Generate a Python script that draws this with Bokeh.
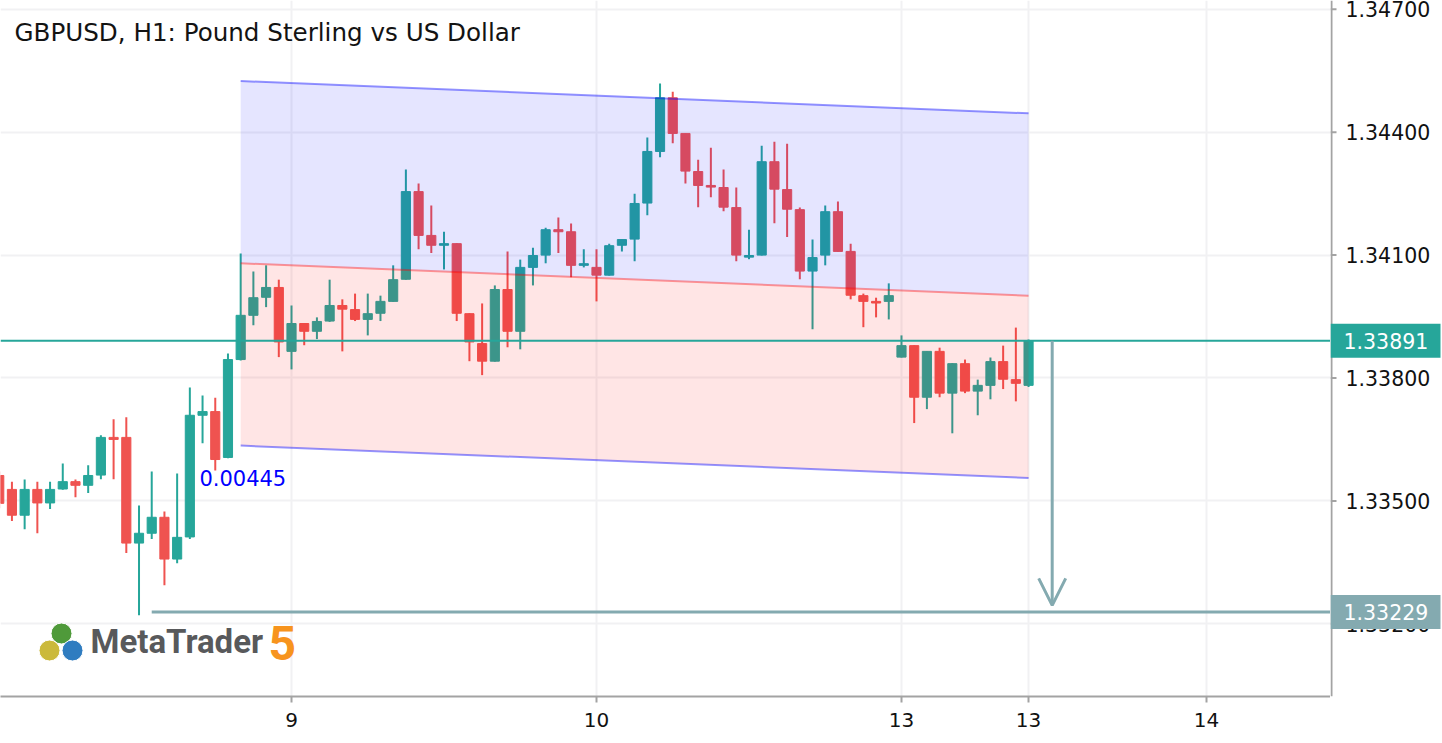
from bokeh.plotting import figure
from bokeh.layouts import row
from bokeh.models import Range1d, FixedTicker, Label, Arrow, OpenHead, Span, Grid
from bokeh.embed import file_html
from bokeh.resources import INLINE
from bokeh.core.properties import value

# ---------------- data ----------------
hours = list(range(-23, 59))  # H1 bar index, 0 = 9th 00:00
opens = [1.33562, 1.33528, 1.33465, 1.33528, 1.33495, 1.33529, 1.33547, 1.33538, 1.33563, 1.33655,
         1.33655, 1.33397, 1.33421, 1.33460, 1.33358, 1.33412, 1.33709, 1.33718, 1.33606, 1.33845,
         1.33953, 1.33997, 1.34021, 1.33865, 1.33933, 1.33914, 1.33939, 1.33977, 1.33967, 1.33943,
         1.33958, 1.33987, 1.34041, 1.34255, 1.34148, 1.34124, 1.34128, 1.33957, 1.33884, 1.33841,
         1.34016, 1.33914, 1.34070, 1.34100, 1.34162, 1.34157, 1.34075, 1.34070, 1.34051, 1.34124,
         1.34139, 1.34227, 1.34353, 1.34484, 1.34397, 1.34304, 1.34270, 1.34265, 1.34216, 1.34095,
         1.34100, 1.34328, 1.34260, 1.34211, 1.34061, 1.34100, 1.34206, 1.34109, 1.34001, 1.33987,
         1.33987, 1.33851, 1.33879, 1.33753, 1.33865, 1.33763, 1.33835, 1.33768, 1.33782, 1.33840,
         1.33796, 1.33782]
highs = [1.33572, 1.33547, 1.33552, 1.33547, 1.33547, 1.33591, 1.33552, 1.33587, 1.33660, 1.33699,
         1.33704, 1.33489, 1.33572, 1.33474, 1.33567, 1.33777, 1.33757, 1.33752, 1.33860, 1.34104,
         1.34060, 1.34075, 1.34040, 1.33977, 1.33934, 1.33948, 1.34040, 1.33992, 1.34006, 1.34006,
         1.34001, 1.34075, 1.34309, 1.34275, 1.34221, 1.34157, 1.34129, 1.33958, 1.33982, 1.34026,
         1.34109, 1.34089, 1.34118, 1.34167, 1.34192, 1.34177, 1.34114, 1.34114, 1.34128, 1.34138,
         1.34250, 1.34387, 1.34519, 1.34499, 1.34397, 1.34333, 1.34362, 1.34309, 1.34265, 1.34162,
         1.34367, 1.34377, 1.34372, 1.34216, 1.34138, 1.34221, 1.34231, 1.34128, 1.34006, 1.33996,
         1.34031, 1.33904, 1.33880, 1.33865, 1.33874, 1.33836, 1.33845, 1.33796, 1.33850, 1.33879,
         1.33923, 1.33894]
lows = [1.33482, 1.33451, 1.33431, 1.33421, 1.33480, 1.33527, 1.33509, 1.33519, 1.33553, 1.33553,
        1.33373, 1.33221, 1.33407, 1.33294, 1.33348, 1.33407, 1.33641, 1.33574, 1.33604, 1.33843,
        1.33929, 1.33973, 1.33851, 1.33821, 1.33880, 1.33895, 1.33937, 1.33865, 1.33939, 1.33904,
        1.33939, 1.33986, 1.34040, 1.34114, 1.34105, 1.34065, 1.33939, 1.33841, 1.33807, 1.33840,
        1.33875, 1.33870, 1.34026, 1.34080, 1.34105, 1.34046, 1.34070, 1.33987, 1.34050, 1.34109,
        1.34085, 1.34197, 1.34339, 1.34373, 1.34275, 1.34217, 1.34241, 1.34207, 1.34085, 1.34090,
        1.34099, 1.34178, 1.34144, 1.34041, 1.33919, 1.34075, 1.34108, 1.33992, 1.33924, 1.33948,
        1.33943, 1.33850, 1.33690, 1.33724, 1.33753, 1.33665, 1.33763, 1.33709, 1.33748, 1.33773,
        1.33743, 1.33778]
closes = [1.33494, 1.33465, 1.33528, 1.33495, 1.33528, 1.33547, 1.33538, 1.33562, 1.33655, 1.33650,
          1.33397, 1.33421, 1.33460, 1.33358, 1.33411, 1.33709, 1.33718, 1.33601, 1.33845, 1.33953,
          1.33996, 1.34021, 1.33888, 1.33933, 1.33914, 1.33938, 1.33977, 1.33968, 1.33943, 1.33957,
          1.33987, 1.34040, 1.34255, 1.34148, 1.34124, 1.34128, 1.33958, 1.33888, 1.33841, 1.34016,
          1.33914, 1.34070, 1.34099, 1.34162, 1.34157, 1.34075, 1.34079, 1.34051, 1.34123, 1.34138,
          1.34226, 1.34353, 1.34484, 1.34397, 1.34305, 1.34270, 1.34266, 1.34217, 1.34100, 1.34099,
          1.34328, 1.34261, 1.34212, 1.34061, 1.34094, 1.34206, 1.34109, 1.34002, 1.33987, 1.33983,
          1.34001, 1.33879, 1.33753, 1.33865, 1.33763, 1.33835, 1.33768, 1.33782, 1.33840, 1.33797,
          1.33787, 1.33891]

x_ticks = [0, 24, 48, 58, 72]
x_tick_labels = ["9", "10", "13", "13", "14"]
y_ticks = [1.332, 1.335, 1.338, 1.341, 1.344, 1.347]
y_tick_labels = [f"{t:.5f}" for t in y_ticks]

channel_x = [-4, 58]
channel_mid = [1.34080, 1.34001]
channel_half = 0.00445
channel_text = "0.00445"

current_price = 1.33891
target_price = 1.33229
target_start = -11

title_text = "GBPUSD, H1: Pound Sterling vs US Dollar"

# ---------------- layout ----------------
W, H = 1442, 743
FW, FH = 1330, 696
AW = W - FW          # width of the price-scale panel
X0, X1 = -22.9, 81.76
Y0, Y1 = 1.330225, 1.347215
FONT = "DejaVu Sans"
AX = "#a3a3a3"
GRID = "#f1f1f3"


def px(xp, yp):
    """pixel position inside the frame -> data coordinates (for decorations)"""
    return X0 + xp / FW * (X1 - X0), Y1 - yp / FH * (Y1 - Y0)


p = figure(width=FW, height=H, output_backend="svg", toolbar_location=None,
           x_range=Range1d(X0, X1), y_range=Range1d(Y0, Y1),
           y_axis_location=None,
           min_border_left=0, min_border_top=0, min_border_right=0, min_border_bottom=H - FH)
p.outline_line_color = None
p.background_fill_color = "white"
p.border_fill_color = "white"

ax = p.xaxis[0]
ax.axis_line_color = AX
ax.axis_line_width = 2
ax.major_tick_line_color = AX
ax.major_tick_line_width = 2
ax.major_tick_out = 6
ax.major_tick_in = 0
ax.minor_tick_line_color = None
ax.major_label_text_font = FONT
ax.major_label_text_font_size = "20px"
ax.major_label_text_color = "#111111"
ax.ticker = FixedTicker(ticks=x_ticks)
ax.major_label_overrides = {t: l for t, l in zip(x_ticks, x_tick_labels)}
ax.major_label_standoff = 10

for g in p.grid:
    g.visible = False
p.add_layout(Grid(dimension=0, ticker=FixedTicker(ticks=x_ticks), grid_line_color=GRID, grid_line_width=2))
p.add_layout(Grid(dimension=1, ticker=FixedTicker(ticks=y_ticks), grid_line_color=GRID, grid_line_width=2))

# ---------------- candles ----------------
GREEN, RED = "#26a69a", "#ef5350"
colors = [GREEN if c > o else RED for o, c in zip(opens, closes)]
tops = [max(o, c) for o, c in zip(opens, closes)]
bots = [min(o, c) for o, c in zip(opens, closes)]
p.segment(x0=hours, y0=lows, x1=hours, y1=highs, line_color=colors, line_width=2)
p.vbar(x=hours, width=0.72, top=tops, bottom=bots, fill_color=colors, line_color=colors, line_width=1)

# ---------------- regression channel ----------------
upper = [m + channel_half for m in channel_mid]
lower = [m - channel_half for m in channel_mid]
p.varea(x=channel_x, y1=channel_mid, y2=upper, fill_color="#0000ff", fill_alpha=0.10)
p.varea(x=channel_x, y1=lower, y2=channel_mid, fill_color="#ff0000", fill_alpha=0.10)
p.line(channel_x, upper, line_color="#0000ff", line_alpha=0.42, line_width=2)
p.line(channel_x, lower, line_color="#0000ff", line_alpha=0.42, line_width=2)
p.line(channel_x, channel_mid, line_color="#ff0000", line_alpha=0.38, line_width=2)

cx, cy = channel_x[0] - 3.25, lower[0] - 0.00080
p.add_layout(Label(x=cx, y=cy, text=channel_text, text_color="#0000ff", text_font=FONT,
                   text_font_size="21px", text_baseline="middle", text_align="left"))

# ---------------- price lines ----------------
p.add_layout(Span(location=current_price, dimension="width", line_color=GREEN, line_width=2))
TGT = "#84aab0"
p.segment(x0=[target_start], y0=[target_price], x1=[X1], y1=[target_price], line_color=TGT, line_width=3)
arrow_x = hours[-1] + 1.86
p.add_layout(Arrow(end=OpenHead(size=27, line_color=TGT, line_width=3),
                   x_start=arrow_x, y_start=current_price, x_end=arrow_x, y_end=target_price + 0.00016,
                   line_color=TGT, line_width=3))

# ---------------- title ----------------
tx, ty = px(14, 32)
p.add_layout(Label(x=tx, y=ty, text=title_text, text_font=FONT, text_font_size="24.6px",
                   text_color="#131313", text_baseline="middle", text_align="left"))

# ---------------- MetaTrader logo ----------------
logo_pts = [(61, 633, "#4f9a3a"), (49, 650, "#cbb93a"), (72, 650, "#2f7cc0")]
lx = [px(a, b)[0] for a, b, _ in logo_pts]
ly = [px(a, b)[1] for a, b, _ in logo_pts]
p.scatter(lx, ly, size=21, fill_color=[c for *_, c in logo_pts], line_color="white", line_width=1)
mx, my = px(90, 641)
p.add_layout(Label(x=mx, y=my, text="MetaTrader", text_font="Roboto", text_font_style="bold",
                   text_font_size="33px", text_color="#58595b", text_baseline="middle"))
fx, fy = px(268, 642)
p.add_layout(Label(x=fx, y=fy, text="5", text_font="Roboto", text_font_style="bold",
                   text_font_size="48px", text_color="#f7941d", text_baseline="middle"))

# ---------------- price scale panel (shares the price range) ----------------
q = figure(width=AW, height=H, output_backend="svg", toolbar_location=None,
           x_range=Range1d(0, AW), y_range=p.y_range,
           x_axis_location=None, y_axis_location=None,
           min_border_left=0, min_border_top=0, min_border_right=0, min_border_bottom=H - FH)
q.outline_line_color = None
q.background_fill_color = "white"
q.border_fill_color = "white"
for g in q.grid:
    g.visible = False

q.segment(x0=[1], y0=[Y0], x1=[1], y1=[Y1], line_color=AX, line_width=2)
q.segment(x0=[0] * len(y_ticks), y0=y_ticks, x1=[6] * len(y_ticks), y1=y_ticks, line_color=AX, line_width=2)
q.text(x=[15] * len(y_ticks), y=y_ticks, text=y_tick_labels, text_font=value(FONT),
       text_font_size="20.5px", text_color="#111111", text_baseline="middle", text_align="left")

box_prices = [current_price, target_price]
box_colors = [GREEN, TGT]
q.rect(x=[AW / 2 - 1] * 2, y=box_prices, width=AW - 2, height=34, height_units="screen",
       fill_color=box_colors, line_color=None)
q.text(x=[13] * 2, y=box_prices, text=[f"{v:.5f}" for v in box_prices], text_font=value(FONT),
       text_font_size="20.5px", text_color="white", text_baseline="middle", text_align="left")

layout = row(p, q, spacing=0)
open("out.html", "w").write(file_html(layout, INLINE))
